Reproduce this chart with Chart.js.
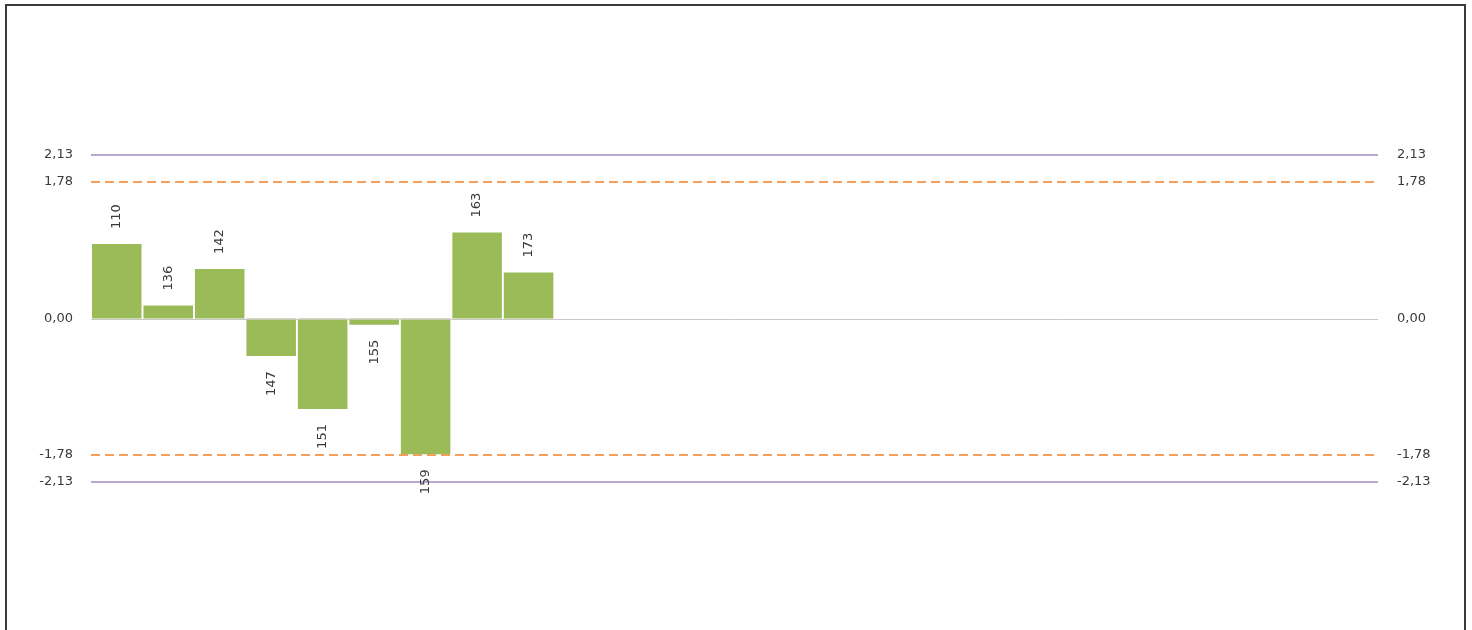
<!DOCTYPE html>
<html>
<head>
<meta charset="utf-8">
<script src="https://cdn.jsdelivr.net/npm/chart.js@4.4.1/dist/chart.umd.min.js"></script>
<style>
  html, body { margin: 0; padding: 0; background: #fff; overflow: hidden; }
  #frame {
    position: absolute; left: 5px; top: 4px;
    width: 1457px; height: 700px;
    border: 2px solid #3a3a3a;
  }
  #wrap { position: absolute; left: 0; top: 0; width: 1472px; height: 630px; }
</style>
</head>
<body>
<div id="frame"></div>
<div id="wrap"><canvas id="chart"></canvas></div>
<script>
"use strict";

/* ── Data ────────────────────────────────────────────────── */
const CODES  = ['110', '136', '142', '147', '151', '155', '159', '163', '173'];
const VALUES = [0.97, 0.17, 0.645, -0.49, -1.18, -0.08, -1.77, 1.12, 0.60];
const SLOTS  = 25;                       // category slots on the x axis

const LIMIT_OUTER = [2.13, -2.13];       // solid lavender lines
const LIMIT_INNER = [1.78, -1.78];       // dashed orange lines
const TICK_VALUES = [2.13, 1.78, 0, -1.78, -2.13];

const Y_MIN = -4;
const Y_MAX = 4;

/* ── Colors ──────────────────────────────────────────────── */
const COLORS = {
  bar:    '#9BBB59',
  outer:  '#B7A8D0',
  inner:  '#F4A05C',
  zero:   '#C8C8C8',
  text:   '#3a3a3a',
};
const FONT = '"DejaVu Sans", sans-serif';

const labels = Array.from({ length: SLOTS }, (_, i) => CODES[i] ?? '');
const data   = Array.from({ length: SLOTS }, (_, i) => VALUES[i] ?? null);

const fmtTick = v => v.toFixed(2).replace('.', ',');

/** Horizontal reference lines + rotated bar codes. */
const overlayPlugin = {
  id: 'overlay',
  afterDatasetsDraw(chart) {
    const { ctx, chartArea: a, scales: { y } } = chart;
    const hline = (v, color, width, dash) => {
      const py = Math.round(y.getPixelForValue(v)) + (width % 2 ? 0.5 : 0);
      ctx.save();
      ctx.strokeStyle = color;
      ctx.lineWidth = width;
      ctx.setLineDash(dash);
      ctx.beginPath();
      ctx.moveTo(a.left, py);
      ctx.lineTo(a.right, py);
      ctx.stroke();
      ctx.restore();
    };
    hline(0, COLORS.zero, 1, []);
    LIMIT_OUTER.forEach(v => hline(v, COLORS.outer, 2, []));
    LIMIT_INNER.forEach(v => hline(v, COLORS.inner, 2, [9, 5]));

    /* codes, rotated, outside each bar end */
    const meta = chart.getDatasetMeta(0);
    ctx.save();
    ctx.fillStyle = COLORS.text;
    ctx.font = `13px ${FONT}`;
    ctx.textBaseline = 'middle';
    meta.data.forEach((el, i) => {
      const v = data[i];
      if (v === null) return;
      const gap = 15;
      ctx.save();
      ctx.translate(el.x, v >= 0 ? el.y - gap : el.y + gap);
      ctx.rotate(-Math.PI / 2);
      ctx.textAlign = v >= 0 ? 'left' : 'right';
      ctx.fillText(labels[i], 0, 0);
      ctx.restore();
    });
    ctx.restore();
  },
};

const yAxis = (position, width, padding) => ({
  position,
  min: Y_MIN,
  max: Y_MAX,
  grid: { display: false, drawTicks: false },
  border: { display: false },
  afterBuildTicks: scale => { scale.ticks = TICK_VALUES.map(value => ({ value })); },
  afterFit: scale => {
    scale.width = width;
    scale.paddingTop = 0;
    scale.paddingBottom = 0;
  },
  ticks: {
    padding,
    color: COLORS.text,
    font: { family: FONT, size: 13 },
    callback: v => fmtTick(v),
  },
});

new Chart(document.getElementById('chart'), {
  type: 'bar',
  data: {
    labels,
    datasets: [{
      data,
      backgroundColor: COLORS.bar,
      borderWidth: 0,
      barPercentage: 0.962,
      categoryPercentage: 1,
    }],
  },
  options: {
    responsive: true,
    maintainAspectRatio: false,
    animation: false,
    layout: { padding: { top: 11.5, bottom: 4.5, left: 0, right: 0 } },
    plugins: { legend: { display: false }, tooltip: { enabled: false } },
    scales: {
      x: { display: false },
      y:  yAxis('left', 91, 18),
      y2: yAxis('right', 94, 19),
    },
  },
  plugins: [overlayPlugin],
});
</script>
</body>
</html>
